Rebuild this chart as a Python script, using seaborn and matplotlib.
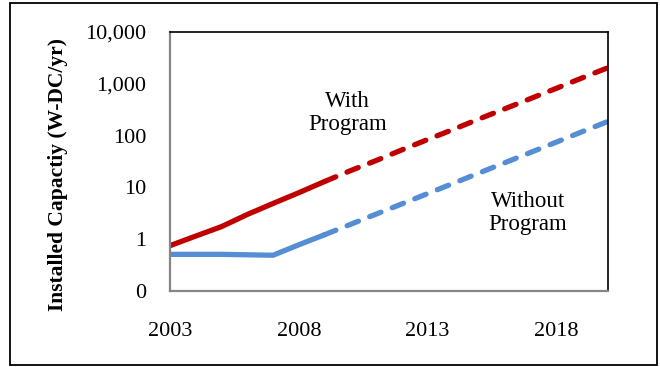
import matplotlib
matplotlib.use("Agg")
import matplotlib.pyplot as plt
import seaborn as sns
import pandas as pd
from matplotlib.patches import Rectangle

# ---- data ----
years_hist = [2003, 2004, 2005, 2006, 2007, 2008, 2009]
with_hist = [0.75, 1.15, 1.75, 3.0, 4.9, 7.9, 13.0]
without_hist = [0.51, 0.51, 0.51, 0.50, 0.49, 0.78, 1.22]

years_proj = [2009, 2010, 2011, 2012, 2013, 2014, 2015, 2016, 2017, 2018, 2019, 2020]
with_proj = [13.0, 21, 33, 53, 84, 132, 210, 330, 520, 820, 1300, 2050]
without_proj = [1.22, 1.93, 3.05, 4.8, 7.6, 12, 19, 30, 47.5, 75, 119, 188]

x_ticks = [2003, 2008, 2013, 2018]
y_ticks = [0.1, 1, 10, 100, 1000, 10000]
y_tick_labels = ["0", "1", "10", "100", "1,000", "10,000"]
y_label = "Installed Capactiy (W-DC/yr)"

RED = "#C00000"
BLUE = "#558ED5"

sns.set_style("white")
plt.rcParams["font.family"] = ["Liberation Serif", "DejaVu Serif"]
plt.rcParams["text.color"] = "black"
plt.rcParams["axes.labelcolor"] = "black"

hist = pd.DataFrame({"year": years_hist, "with": with_hist, "without": without_hist})
proj = pd.DataFrame({"year": years_proj, "with": with_proj, "without": without_proj})

fig = plt.figure(figsize=(6.6, 3.67), dpi=100)
ax = fig.add_axes([170 / 660, 1 - 291 / 367, (608 - 170) / 660, (291 - 32) / 367])

lw = 3.8
sns.lineplot(data=proj, x="year", y="with", ax=ax, color=RED, lw=lw)
ax.lines[-1].set_linestyle((0, (2.3, 2.3)))
ax.lines[-1].set_dash_capstyle("round")
sns.lineplot(data=proj, x="year", y="without", ax=ax, color=BLUE, lw=lw)
ax.lines[-1].set_linestyle((0, (2.3, 2.3)))
ax.lines[-1].set_dash_capstyle("round")
sns.lineplot(data=hist, x="year", y="with", ax=ax, color=RED, lw=lw)
ax.lines[-1].set_solid_capstyle("round")
ax.lines[-1].set_solid_joinstyle("round")
sns.lineplot(data=hist, x="year", y="without", ax=ax, color=BLUE, lw=lw)
ax.lines[-1].set_solid_capstyle("round")
ax.lines[-1].set_solid_joinstyle("round")

ax.set_yscale("log")
ax.set_ylim(0.1, 10000)
ax.set_xlim(2003, 2020)
ax.set_yticks(y_ticks)
ax.set_yticklabels(y_tick_labels)
ax.minorticks_off()
ax.set_xticks(x_ticks)
ax.set_xticklabels([str(t) for t in x_ticks])

ax.set_xlabel("")
ax.set_ylabel(y_label, fontsize=15.5, fontweight="bold")
ax.yaxis.set_label_coords(-0.233, 0.448)

gray = "#868686"
for s in ["left", "bottom"]:
    ax.spines[s].set_color(gray)
    ax.spines[s].set_linewidth(1.6)
for s in ["top", "right"]:
    ax.spines[s].set_color("black")
    ax.spines[s].set_linewidth(1.2)

ax.tick_params(axis="both", which="major", direction="out", length=5,
               width=1.2, color=gray, labelsize=16, labelcolor="black")
ax.tick_params(axis="y", pad=12)
ax.tick_params(axis="x", pad=17)

ax.text(2009.9, 270, "With\nProgram", ha="center", va="center", fontsize=16.5,
        linespacing=1.1)
ax.text(2016.9, 3.2, "Without\nProgram", ha="center", va="center", fontsize=16.5,
        linespacing=1.1)

fig.patches.append(Rectangle((10.5 / 660, 1 - 365 / 367), (657 - 10.5) / 660, (365 - 2.5) / 367,
                             transform=fig.transFigure, fill=False,
                             edgecolor="black", linewidth=1.3))

fig.savefig("out.png", dpi=100)
